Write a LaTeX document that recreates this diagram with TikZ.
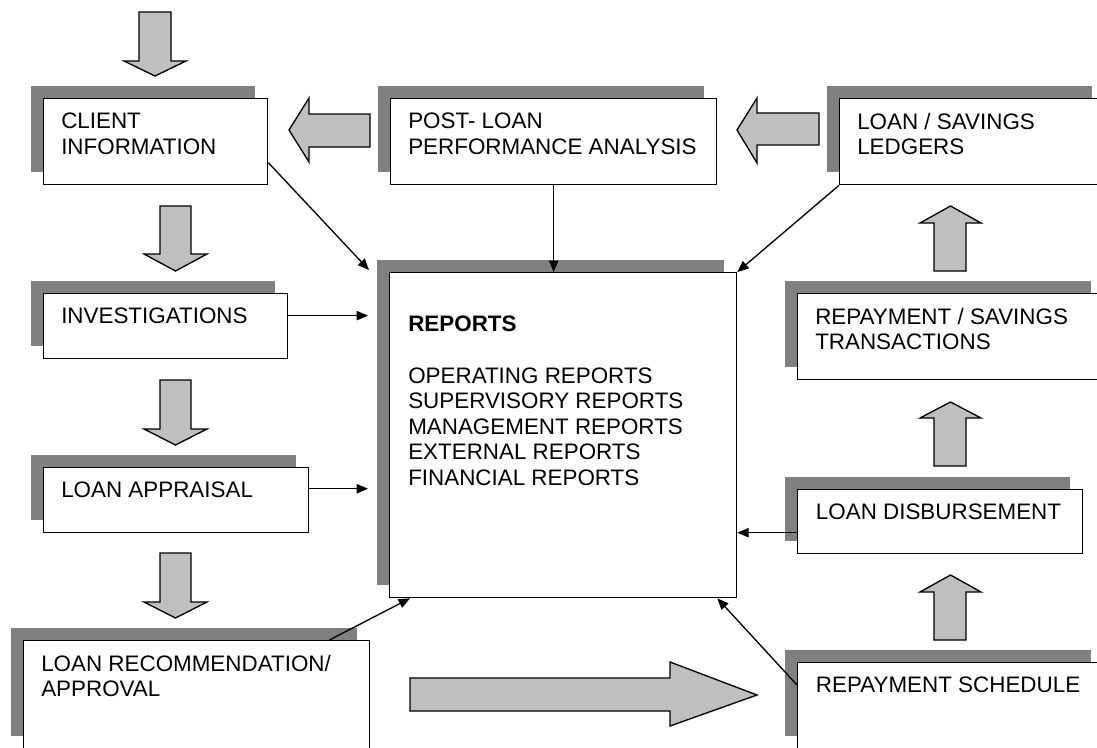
\documentclass[tikz,border=0pt]{standalone}
\usepackage{fontspec}
\setmainfont{Liberation Sans}
\usetikzlibrary{shapes}
\usetikzlibrary{arrows.meta}
\usetikzlibrary{positioning}
\usetikzlibrary{shadows}

\begin{document}
\begin{tikzpicture}[x=0.75pt,y=-0.75pt]
	\tikzstyle{box}=[rectangle,draw,fill=white,line width=1pt,anchor=north west,inner sep=0pt,general shadow={fill=black!50,shadow xshift=-9.75pt,shadow yshift=9.75pt}]
	\tikzstyle{txt}=[inner sep=0pt,align=left,font=\fontsize{16.8pt}{19.2pt}\selectfont]
	\tikzstyle{blk}=[draw,fill=black!25,line width=1pt]
	\tikzstyle{conn}=[-{Triangle[length=8.5pt,width=7pt]},line width=1pt]
	
	\useasboundingbox (0,0) rectangle (1097,747);
	
	\node[box,minimum width=168pt,minimum height=64.5pt] (client) at (43,98) {};
	\node[box,minimum width=183pt,minimum height=48.75pt] (invest) at (43,293) {};
	\node[box,minimum width=198.75pt,minimum height=48.75pt] (apprais) at (43,467) {};
	\node[box,minimum width=259.5pt,minimum height=81pt] (rec) at (23,640) {};
	\node[box,minimum width=244.5pt,minimum height=64.5pt] (post) at (390,98) {};
	\node[box,minimum width=198.75pt,minimum height=64.5pt] (ledger) at (839,98) {};
	\node[box,minimum width=260.25pt,minimum height=243.75pt] (reports) at (389,272) {};
	\node[box,minimum width=229.5pt,minimum height=64.5pt] (trans) at (797,293) {};
	\node[box,minimum width=213.75pt,minimum height=48pt] (disb) at (797,489) {};
	\node[box,minimum width=229.5pt,minimum height=64.5pt] (sched) at (797,662) {};
	
	\node[txt,below right=11pt and 13.5pt of client.north west] (clienttxt) {CLIENT\\INFORMATION};
	\node[txt,below right=11pt and 13.5pt of invest.north west] (investtxt) {INVESTIGATIONS};
	\node[txt,below right=11pt and 13.5pt of apprais.north west] (appraistxt) {LOAN APPRAISAL};
	\node[txt,below right=11pt and 13.5pt of rec.north west] (rectxt) {LOAN RECOMMENDATION/\\APPROVAL};
	\node[txt,below right=11pt and 13.5pt of post.north west] (posttxt) {POST- LOAN\\PERFORMANCE ANALYSIS};
	\node[txt,below right=11pt and 13.5pt of ledger.north west] (ledgertxt) {LOAN / SAVINGS\\LEDGERS};
	\node[txt,below right=11pt and 13.5pt of trans.north west] (transtxt) {REPAYMENT / SAVINGS\\TRANSACTIONS};
	\node[txt,below right=11pt and 14pt of disb.north west] (disbtxt) {LOAN DISBURSEMENT};
	\node[txt,below right=11pt and 14pt of sched.north west] (schedtxt) {REPAYMENT SCHEDULE};
	\node[txt,below right=33pt and 14.25pt of reports.north west] (reportstxt) {\textbf{REPORTS}\\[19.2pt]OPERATING REPORTS\\SUPERVISORY REPORTS\\MANAGEMENT REPORTS\\EXTERNAL REPORTS\\FINANCIAL REPORTS};
	
	\draw[blk] (139,12) -- (171,12) -- (171,61) -- (186,61) -- (155,76) -- (124,61) -- (139,61) -- cycle;
	\foreach \t/\h/\p in {206/254/271,380/429/445,553/602/618}
		\draw[blk] (160,\t) -- (191,\t) -- (191,\h) -- (207,\h) -- (175.5,\p) -- (144,\h) -- (160,\h) -- cycle;
	\foreach \b/\h/\p in {640/592/575,466/418/402,271/223/206}
		\draw[blk] (934,\b) -- (966,\b) -- (966,\h) -- (981,\h) -- (950.5,\p) -- (920,\h) -- (934,\h) -- cycle;
	\draw[blk] (370,114) -- (309,114) -- (309,98) -- (289,130) -- (309,162) -- (309,147) -- (370,147) -- cycle;
	\draw[blk] (819,113) -- (757,113) -- (757,98) -- (737,130) -- (757,163) -- (757,145) -- (819,145) -- cycle;
	\draw[blk] (410,678) -- (670,678) -- (670,662) -- (757,695) -- (670,726) -- (670,711) -- (410,711) -- cycle;
	
	\draw[conn] ([yshift=-15.75pt]client.east) -- ([xshift=-15pt,yshift=1.5pt]reports.north west);
	\draw[conn] (post.south) -- (post.south |- reports.north);
	\draw[conn] (ledger.south west) -- (reports.north east);
	\draw[conn,shorten >=15.75pt] ([yshift=7.9pt]invest.east) -- ([yshift=7.9pt]invest.east -| reports.west);
	\draw[conn,shorten >=15.75pt] ([yshift=8.6pt]apprais.east) -- ([yshift=8.6pt]apprais.east -| reports.west);
	\draw[conn] ([xshift=-30.75pt]rec.north east) -- ([xshift=15.75pt]reports.south west);
	\draw[conn] ([yshift=-8.25pt]disb.west) -- ([yshift=-8.25pt]disb.west -| reports.east);
	\draw[conn] ([yshift=-17.25pt]sched.north west) -- ([xshift=-15pt]reports.south east);
\end{tikzpicture}
\end{document}
